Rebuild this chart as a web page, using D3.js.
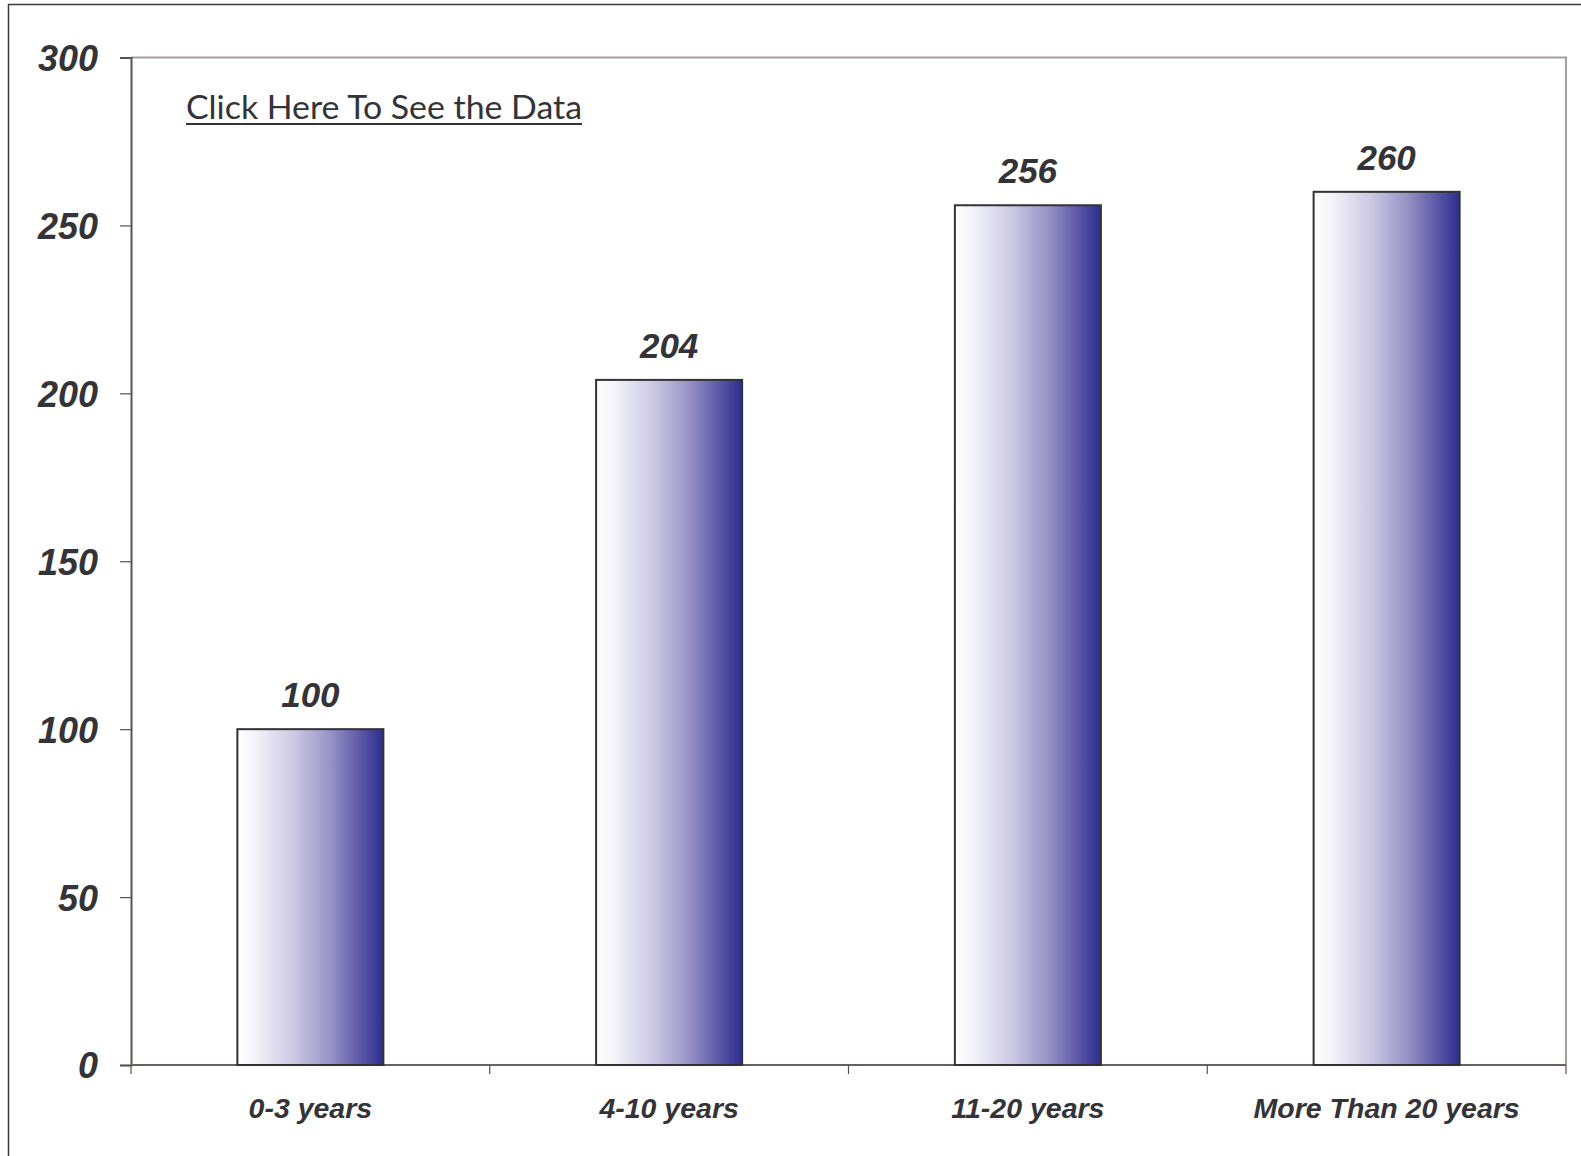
<!DOCTYPE html>
<html>
<head>
<meta charset="utf-8">
<script src="https://cdn.jsdelivr.net/npm/d3@7"></script>
<style>
  html, body { margin: 0; padding: 0; background: #fff; }
  svg { display: block; }
  .tick-label { font-family: "Liberation Sans", Arial, sans-serif; font-weight: bold; font-style: italic; fill: #333338; }
</style>
</head>
<body>
<div id="chart"></div>
<script>
// 工作年限分布柱状图
const categories = ['0-3 years', '4-10 years', '11-20 years', 'More Than 20 years'];
const values = [100, 204, 256, 260];
const yTicks = [0, 50, 100, 150, 200, 250, 300];
const linkText = 'Click Here To See the Data';

const W = 1581, H = 1156;
const plot = { left: 131, top: 57.5, right: 1566, bottom: 1065 };

const svg = d3.select('#chart').append('svg')
  .attr('width', W)
  .attr('height', H);

const defs = svg.append('defs');
const grad = defs.append('linearGradient')
  .attr('id', 'barGrad')
  .attr('x1', '0%').attr('x2', '100%')
  .attr('y1', '0%').attr('y2', '0%');
[
  [0, '#ffffff'],
  [0.12, '#f4f4f9'],
  [0.4, '#cac6e2'],
  [0.65, '#958fc4'],
  [0.85, '#5a56a6'],
  [1, '#2c2e8e'],
].forEach(([o, c]) => grad.append('stop').attr('offset', o).attr('stop-color', c));

// outer frame (only top/left visible)
svg.append('rect')
  .attr('x', 8.5).attr('y', 4.5)
  .attr('width', W + 20).attr('height', H + 20)
  .attr('fill', 'none')
  .attr('stroke', '#3a3a3a')
  .attr('stroke-width', 1.5);

const x = d3.scaleBand()
  .domain(categories)
  .range([plot.left, plot.right])
  .paddingInner(0.593)
  .paddingOuter(0.2965);

const y = d3.scaleLinear()
  .domain([0, 300])
  .range([plot.bottom, plot.top]);

// plot area border (top, right)
svg.append('path')
  .attr('d', `M${plot.left},${plot.top}H${plot.right}V${plot.bottom}`)
  .attr('fill', 'none')
  .attr('stroke', '#a89c9c')
  .attr('stroke-width', 2);

// y axis
const yAxis = svg.append('g')
  .attr('transform', `translate(${plot.left},0)`)
  .call(d3.axisLeft(y).tickValues(yTicks).tickSize(11).tickPadding(22));
yAxis.select('.domain').attr('stroke', '#5a5050').attr('stroke-width', 2);
yAxis.selectAll('.tick line').attr('stroke', '#5a5050').attr('stroke-width', 1.2);
yAxis.selectAll('.tick text')
  .attr('class', 'tick-label')
  .attr('font-size', 36)
  .attr('dy', '0.36em')
  .attr('fill', '#333338');

// x axis: ticks at category boundaries
const bounds = d3.range(categories.length + 1).map(i => plot.left + i * x.step());
svg.append('line')
  .attr('x1', plot.left).attr('x2', plot.right)
  .attr('y1', plot.bottom).attr('y2', plot.bottom)
  .attr('stroke', '#6a6060').attr('stroke-width', 2);
svg.selectAll('.x-tick')
  .data(bounds)
  .join('line')
  .attr('class', 'x-tick')
  .attr('x1', d => d).attr('x2', d => d)
  .attr('y1', plot.bottom).attr('y2', plot.bottom + 9)
  .attr('stroke', '#5a5050').attr('stroke-width', 1.2);

svg.selectAll('.x-label')
  .data(categories)
  .join('text')
  .attr('class', 'tick-label x-label')
  .attr('x', d => x(d) + x.bandwidth() / 2)
  .attr('y', 1118)
  .attr('text-anchor', 'middle')
  .attr('font-size', 28.5)
  .text(d => d);

// bars
svg.selectAll('.bar')
  .data(values)
  .join('rect')
  .attr('class', 'bar')
  .attr('x', (d, i) => x(categories[i]))
  .attr('y', d => y(d))
  .attr('width', x.bandwidth())
  .attr('height', d => y(0) - y(d))
  .attr('fill', 'url(#barGrad)')
  .attr('stroke', '#333336')
  .attr('stroke-width', 2);

svg.selectAll('.value-label')
  .data(values)
  .join('text')
  .attr('class', 'tick-label value-label')
  .attr('x', (d, i) => x(categories[i]) + x.bandwidth() / 2)
  .attr('y', d => y(d) - 22)
  .attr('text-anchor', 'middle')
  .attr('font-size', 35)
  .text(d => d);

// link text
svg.append('text')
  .attr('x', 186)
  .attr('y', 119)
  .attr('font-family', 'Lato, "Open Sans", sans-serif')
  .attr('font-size', 33)
  .attr('fill', '#333338')
  .attr('textLength', 396)
  .attr('lengthAdjust', 'spacingAndGlyphs')
  .text(linkText);
svg.append('line')
  .attr('x1', 186).attr('x2', 582)
  .attr('y1', 124).attr('y2', 124)
  .attr('stroke', '#333338').attr('stroke-width', 2);
</script>
</body>
</html>
